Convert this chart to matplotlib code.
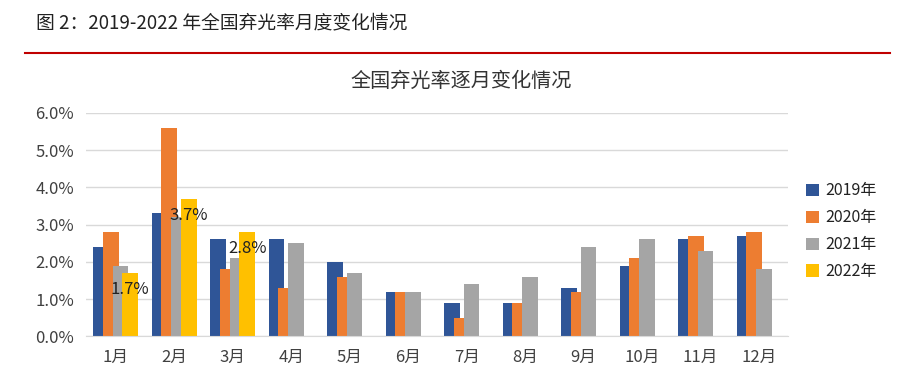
import numpy as np
import matplotlib.pyplot as plt
from matplotlib.ticker import FuncFormatter

plt.rcParams['font.family'] = ['Noto Sans CJK SC', 'DejaVu Sans']

months = ["1月", "2月", "3月", "4月", "5月", "6月", "7月", "8月", "9月", "10月", "11月", "12月"]
r2019 = [2.4, 3.3, 2.6, 2.6, 2.0, 1.2, 0.9, 0.9, 1.3, 1.9, 2.6, 2.7]
r2020 = [2.8, 5.6, 1.8, 1.3, 1.6, 1.2, 0.5, 0.9, 1.2, 2.1, 2.7, 2.8]
r2021 = [1.9, 3.2, 2.1, 2.5, 1.7, 1.2, 1.4, 1.6, 2.4, 2.6, 2.3, 1.8]
r2022 = [1.7, 3.7, 2.8]

series = [("2019年", r2019, "#2F5597"), ("2020年", r2020, "#ED7D31"),
          ("2021年", r2021, "#A5A5A5"), ("2022年", r2022, "#FFC000")]

fig = plt.figure(figsize=(8.99, 3.74), dpi=100)
fig.text(0.04, 0.94, "图 2：2019-2022 年全国弃光率月度变化情况", fontsize=13.5, color="#222222", va="center")
fig.add_artist(plt.Line2D([0.028, 0.99], [0.858, 0.858], color="#C00000", lw=1.5))
fig.text(0.513, 0.782, "全国弃光率逐月变化情况", fontsize=14.5, color="#333333", ha="center", va="center",
         fontweight="medium")

ax = fig.add_axes([0.096, 0.101, 0.781, 0.597])
x = np.arange(len(months))
w = 0.27      # bars overlap like the excel original
step = 0.167
for i, (name, vals, c) in enumerate(series):
    xs = x[:len(vals)] + (i - 1.5) * step
    bars = ax.bar(xs, vals, w, color=c, label=name)
    if name == "2022年":
        for b, v in zip(bars, vals):
            ax.text(b.get_x() + b.get_width() / 2, v - 0.45, f"{v:.1f}%", ha="center", va="center",
                    fontsize=12, color="#222222")

ax.set_xlim(-0.5, 11.5)
ax.set_ylim(0, 6.0)
ax.set_yticks(np.arange(0, 6.1, 1.0))
ax.yaxis.set_major_formatter(FuncFormatter(lambda v, p: f"{v:.1f}%"))
ax.set_xticks(x)
ax.set_xticklabels(months)
ax.tick_params(axis="both", length=0, labelsize=12, colors="#404040")
ax.tick_params(axis="y", pad=9)
ax.tick_params(axis="x", pad=9)
ax.grid(axis="y", color="#D9D9D9", lw=1)
ax.set_axisbelow(True)
for s in ["top", "right", "left"]:
    ax.spines[s].set_visible(False)
ax.spines["bottom"].set_color("#D9D9D9")

ax.legend(loc="center left", bbox_to_anchor=(1.005, 0.47), frameon=False, fontsize=11.5,
          handlelength=0.8, handleheight=0.8, handletextpad=0.4, labelspacing=0.62,
          labelcolor="#222222")

fig.savefig("out.png", dpi=100)
